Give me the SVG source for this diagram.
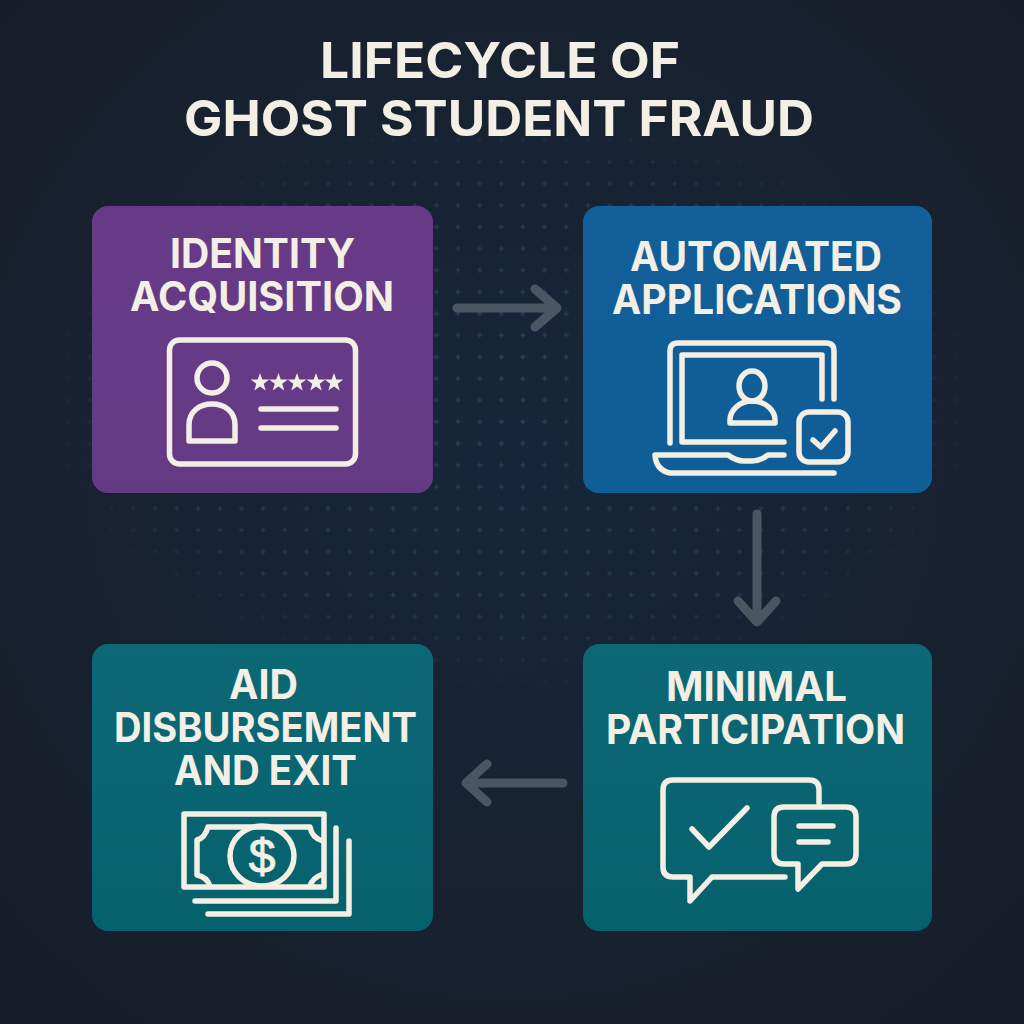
<svg xmlns="http://www.w3.org/2000/svg" width="1024" height="1024" viewBox="0 0 1024 1024">
<defs>
<style>
.t{font-family:Inter,"Liberation Sans",sans-serif;font-weight:700;fill:#f3efe4;text-anchor:middle}
.title{font-size:50px}
.lbl{font-size:41px}
.i{fill:none;stroke:#f3efe4;stroke-width:5.500;stroke-linecap:round;stroke-linejoin:round}
.c{fill:none;stroke:#4a5763;stroke-width:9;stroke-linecap:round;stroke-linejoin:round}
</style>
<radialGradient id="bg" cx="0.5" cy="0.45" r="0.75">
<stop offset="0" stop-color="#16263a"/><stop offset="0.6" stop-color="#18212f"/><stop offset="1" stop-color="#171d2a"/>
</radialGradient>
<linearGradient id="pu" x1="0" y1="0" x2="0" y2="1"><stop offset="0" stop-color="#673a88"/><stop offset="1" stop-color="#643a85"/></linearGradient>
<linearGradient id="bl" x1="0" y1="0" x2="0" y2="1"><stop offset="0" stop-color="#125f99"/><stop offset="1" stop-color="#0f5e97"/></linearGradient>
<linearGradient id="te" x1="0" y1="0" x2="0" y2="1"><stop offset="0" stop-color="#0c6875"/><stop offset="1" stop-color="#05626d"/></linearGradient>
<pattern id="dots" x="458" y="227" width="21.65" height="21.65" patternUnits="userSpaceOnUse">
<path d="M0 -3.5L1 -1L3.5 0L1 1L0 3.5L-1 1L-3.5 0L-1 -1Z M21.65 -3.5L22.65 -1L25.15 0L22.65 1L21.65 3.5L20.65 1L18.15 0L20.65 -1Z M0 18.15L1 20.65L3.5 21.65L1 22.65L0 25.15L-1 22.65L-3.5 21.65L-1 20.65Z M21.65 18.15L22.65 20.65L25.15 21.65L22.65 22.65L21.65 25.15L20.65 22.65L18.15 21.65L20.65 20.65Z" fill="#25466b"/>
</pattern>
<radialGradient id="fade" cx="512" cy="0" r="480" gradientUnits="userSpaceOnUse" gradientTransform="translate(0 400) scale(1 0.62)">
<stop offset="0" stop-color="#fff" stop-opacity="0.8"/><stop offset="0.75" stop-color="#fff" stop-opacity="0.6"/><stop offset="1" stop-color="#fff" stop-opacity="0"/>
</radialGradient>
<mask id="m"><rect width="1024" height="1024" fill="url(#fade)"/></mask>
</defs>
<rect width="1024" height="1024" fill="url(#bg)"/>
<rect width="1024" height="1024" fill="url(#dots)" mask="url(#m)"/>
<g id="title">
<text class="t title" x="500" y="78" textLength="360" lengthAdjust="spacingAndGlyphs">LIFECYCLE OF</text>
<text class="t title" x="499" y="136" textLength="630" lengthAdjust="spacingAndGlyphs">GHOST STUDENT FRAUD</text>
</g>
<g id="connectors">
<path class="c" d="M457 308H556M535 289L557 308L535 327"/>
<path class="c" d="M757 514V621M738 601L757 622L776 601"/>
<path class="c" d="M563 783H467M487 764L466 783L487 802"/>
</g>
<g id="identity-acquisition">
<rect x="92" y="206" width="341" height="287" rx="16" fill="url(#pu)"/>
<text class="t lbl" x="262.500" y="268" textLength="185" lengthAdjust="spacingAndGlyphs">IDENTITY</text>
<text class="t lbl" x="262" y="311" textLength="264" lengthAdjust="spacingAndGlyphs">ACQUISITION</text>
<rect class="i" x="169.500" y="340" width="186" height="124" rx="10"/>
<circle class="i" cx="212" cy="378" r="15"/>
<path class="i" d="M189 441V425C189 411 200 404 212 404C224 404 235 411 235 425V441Z"/>
<path d="M260 373l2.300 6.500h7l-5.600 4.200l2 6.800l-5.700-4.100l-5.700 4.100l2-6.800l-5.600-4.200h7Z M278.500 373l2.300 6.500h7l-5.600 4.200l2 6.800l-5.700-4.100l-5.700 4.100l2-6.800l-5.600-4.200h7Z M297 373l2.300 6.500h7l-5.600 4.200l2 6.800l-5.700-4.100l-5.700 4.100l2-6.800l-5.600-4.200h7Z M316 373l2.300 6.500h7l-5.600 4.200l2 6.800l-5.700-4.100l-5.700 4.100l2-6.800l-5.600-4.200h7Z M334 373l2.300 6.500h7l-5.600 4.200l2 6.800l-5.700-4.100l-5.700 4.100l2-6.800l-5.600-4.200h7Z" fill="#f3efe4"/>
<path class="i" d="M261 409H336M261 428H336"/>
</g>
<g id="automated-applications">
<rect x="583" y="206" width="349" height="287" rx="16" fill="url(#bl)"/>
<text class="t lbl" x="756" y="271" textLength="252" lengthAdjust="spacingAndGlyphs">AUTOMATED</text>
<text class="t lbl" x="757" y="314" textLength="290" lengthAdjust="spacingAndGlyphs">APPLICATIONS</text>
<path class="i" d="M670 443V351Q670 343 678 343H826Q834 343 834 351V399"/>
<path class="i" d="M822 399V355H682V442H784"/>
<path class="i" d="M784 455H768Q760 461 752 461H744Q736 461 728 455H655Q656 470 670 473H834"/>
<ellipse class="i" cx="752" cy="386" rx="13" ry="15"/>
<path class="i" d="M730 423V420C730 410 740 401 752 401C765 401 775 410 775 420V423Z"/>
<rect class="i" x="799" y="412" width="49" height="50" rx="10"/>
<path class="i" d="M813 440L821 447L835 431"/>
</g>
<g id="minimal-participation">
<rect x="583" y="644" width="349" height="287" rx="16" fill="url(#te)"/>
<text class="t lbl" x="756.500" y="701" textLength="181" lengthAdjust="spacingAndGlyphs">MINIMAL</text>
<text class="t lbl" x="755.500" y="744" textLength="299" lengthAdjust="spacingAndGlyphs">PARTICIPATION</text>
<path class="i" d="M819 803V790Q819 780 809 780H673Q663 780 663 790V867Q663 877 673 877H690V901L712 877H785"/>
<path class="i" d="M784 807H846Q856 807 856 817V854Q856 864 846 864H822L798 889V864H784Q774 864 774 854V817Q774 807 784 807Z"/>
<path class="i" d="M799 826H833M799 842H828" stroke-width="6"/>
<path class="i" d="M692 829L709 847L747 808"/>
</g>
<g id="aid-disbursement-and-exit">
<rect x="92" y="644" width="341" height="287" rx="16" fill="url(#te)"/>
<text class="t lbl" x="263.500" y="699" textLength="69" lengthAdjust="spacingAndGlyphs">AID</text>
<text class="t lbl" x="265.500" y="742" textLength="303" lengthAdjust="spacingAndGlyphs">DISBURSEMENT</text>
<text class="t lbl" x="265.500" y="785" textLength="183" lengthAdjust="spacingAndGlyphs">AND EXIT</text>
<rect class="i" x="184" y="814" width="140" height="73"/>
<path class="i" d="M195 901H336V828M208 914H349V841"/>
<path class="i" d="M208 827H310Q312 838 323 841M208 827Q205 838 197 840V875Q207 877 210 886M310 886Q312 878 323 874"/>
<ellipse class="i" cx="262" cy="856" rx="32" ry="30"/>
<text x="262" y="873" font-family="Liberation Sans,sans-serif" font-size="48" stroke="#f3efe4" stroke-width="1" fill="#f3efe4" text-anchor="middle">$</text>
</g>
</svg>
